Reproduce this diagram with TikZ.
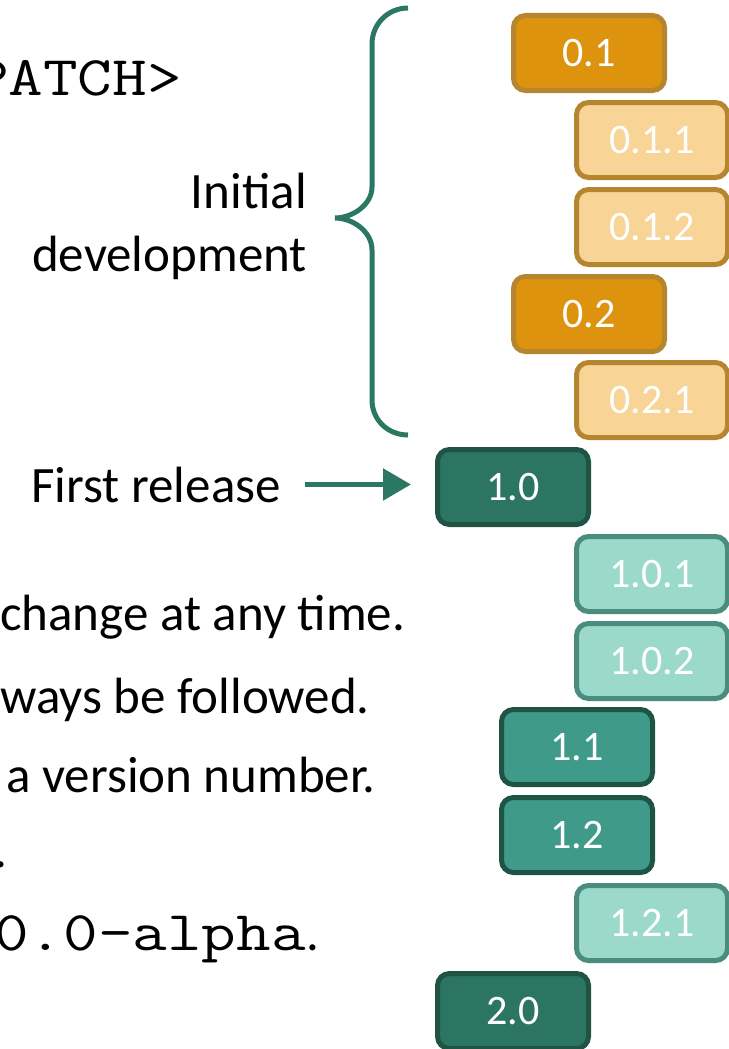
\documentclass[tikz,border=0pt]{standalone}
\usepackage{fontspec}
\usepackage{graphicx}
\setmainfont{Carlito}
\usetikzlibrary{arrows.meta}
\definecolor{ozfill}{HTML}{DD930E}
\definecolor{ozline}{HTML}{B5852F}
\definecolor{ozlight}{HTML}{F8D496}
\definecolor{gmajor}{HTML}{2C7563}
\definecolor{gdark}{HTML}{1F5444}
\definecolor{gminor}{HTML}{409A8A}
\definecolor{glight}{HTML}{9BDACB}
\definecolor{gpline}{HTML}{4A8C7E}
\definecolor{gbrace}{HTML}{2A7864}
\newcommand{\codetext}[1]{\scalebox{1.2}[1]{\fontsize{56}{60}\selectfont\ttfamily #1}}
\tikzset{
  vbox/.style={rounded corners=12pt, line width=5pt, minimum width=151pt,
    minimum height=75pt, inner sep=0pt, text=white, font=\fontsize{42}{50}\selectfont},
  majorzero/.style={vbox, draw=ozline, fill=ozfill},
  patchzero/.style={vbox, draw=ozline, fill=ozlight},
  majorone/.style={vbox, draw=gdark, fill=gmajor},
  minorone/.style={vbox, draw=gdark, fill=gminor},
  patchone/.style={vbox, draw=gpline, fill=glight},
  lbl/.style={inner sep=0pt, font=\fontsize{51}{50}\selectfont},
  code/.style={inner sep=0pt},
  relarrow/.style={draw=gbrace, line width=5.5pt, -{Triangle[length=28pt,width=31pt]}}
}
\begin{document}
\begin{tikzpicture}[x=1pt, y=-1pt]
    \useasboundingbox (0,0) rectangle (728,1049);
    \node[majorzero] (v01) at (589, 53) {0.1};
    \node[patchzero] (v011) at (652, 140) {0.1.1};
    \node[patchzero] (v012) at (652, 227) {0.1.2};
    \node[majorzero] (v02) at (589, 314) {0.2};
    \node[patchzero] (v021) at (652, 400) {0.2.1};
    \node[majorone] (v10) at (513, 487) {1.0};
    \node[patchone] (v101) at (652, 574) {1.0.1};
    \node[patchone] (v102) at (652, 661) {1.0.2};
    \node[minorone] (v11) at (577, 747) {1.1};
    \node[minorone] (v12) at (577, 835) {1.2};
    \node[patchone] (v121) at (652, 923) {1.2.1};
    \node[majorone] (v20) at (513, 1011) {2.0};
    \node[code, anchor=base east] (patch) at (182, 95) {\codetext{PATCH>}};
    \node[lbl, anchor=base east] (init) at (307, 208) {Initial};
    \node[lbl, anchor=base east] (devel) at (307, 271) {development};
    \node[lbl, anchor=base east] (first) at (281, 502) {First release};
    \node[lbl, anchor=base west] (chg) at (0, 630) {change at any time.};
    \node[lbl, anchor=base west] (folw) at (0, 713) {ways be followed.};
    \node[lbl, anchor=base west] (vnum) at (6, 792) {a version number.};
    \node[lbl, anchor=base east] (stop) at (8, 867) {.};
    \node[code, anchor=base east] (alpha) at (306, 950) {\codetext{0.0-alpha}};
    \node[lbl, anchor=base west] (adot) at (alpha.base east) {.};
    \draw[relarrow] ([xshift=24pt]first.east) -- ([xshift=-24pt]first.east -| v10.west);
    \draw[gbrace, line width=5pt] (408,8) .. controls (388,8) and (372,24) .. (372,44)
      -- (372,187) .. controls (372,205) and (352,218) .. (335,218)
      .. controls (352,218) and (372,231) .. (372,250)
      -- (372,400) .. controls (372,420) and (388,435) .. (408,435);
\end{tikzpicture}
\end{document}
